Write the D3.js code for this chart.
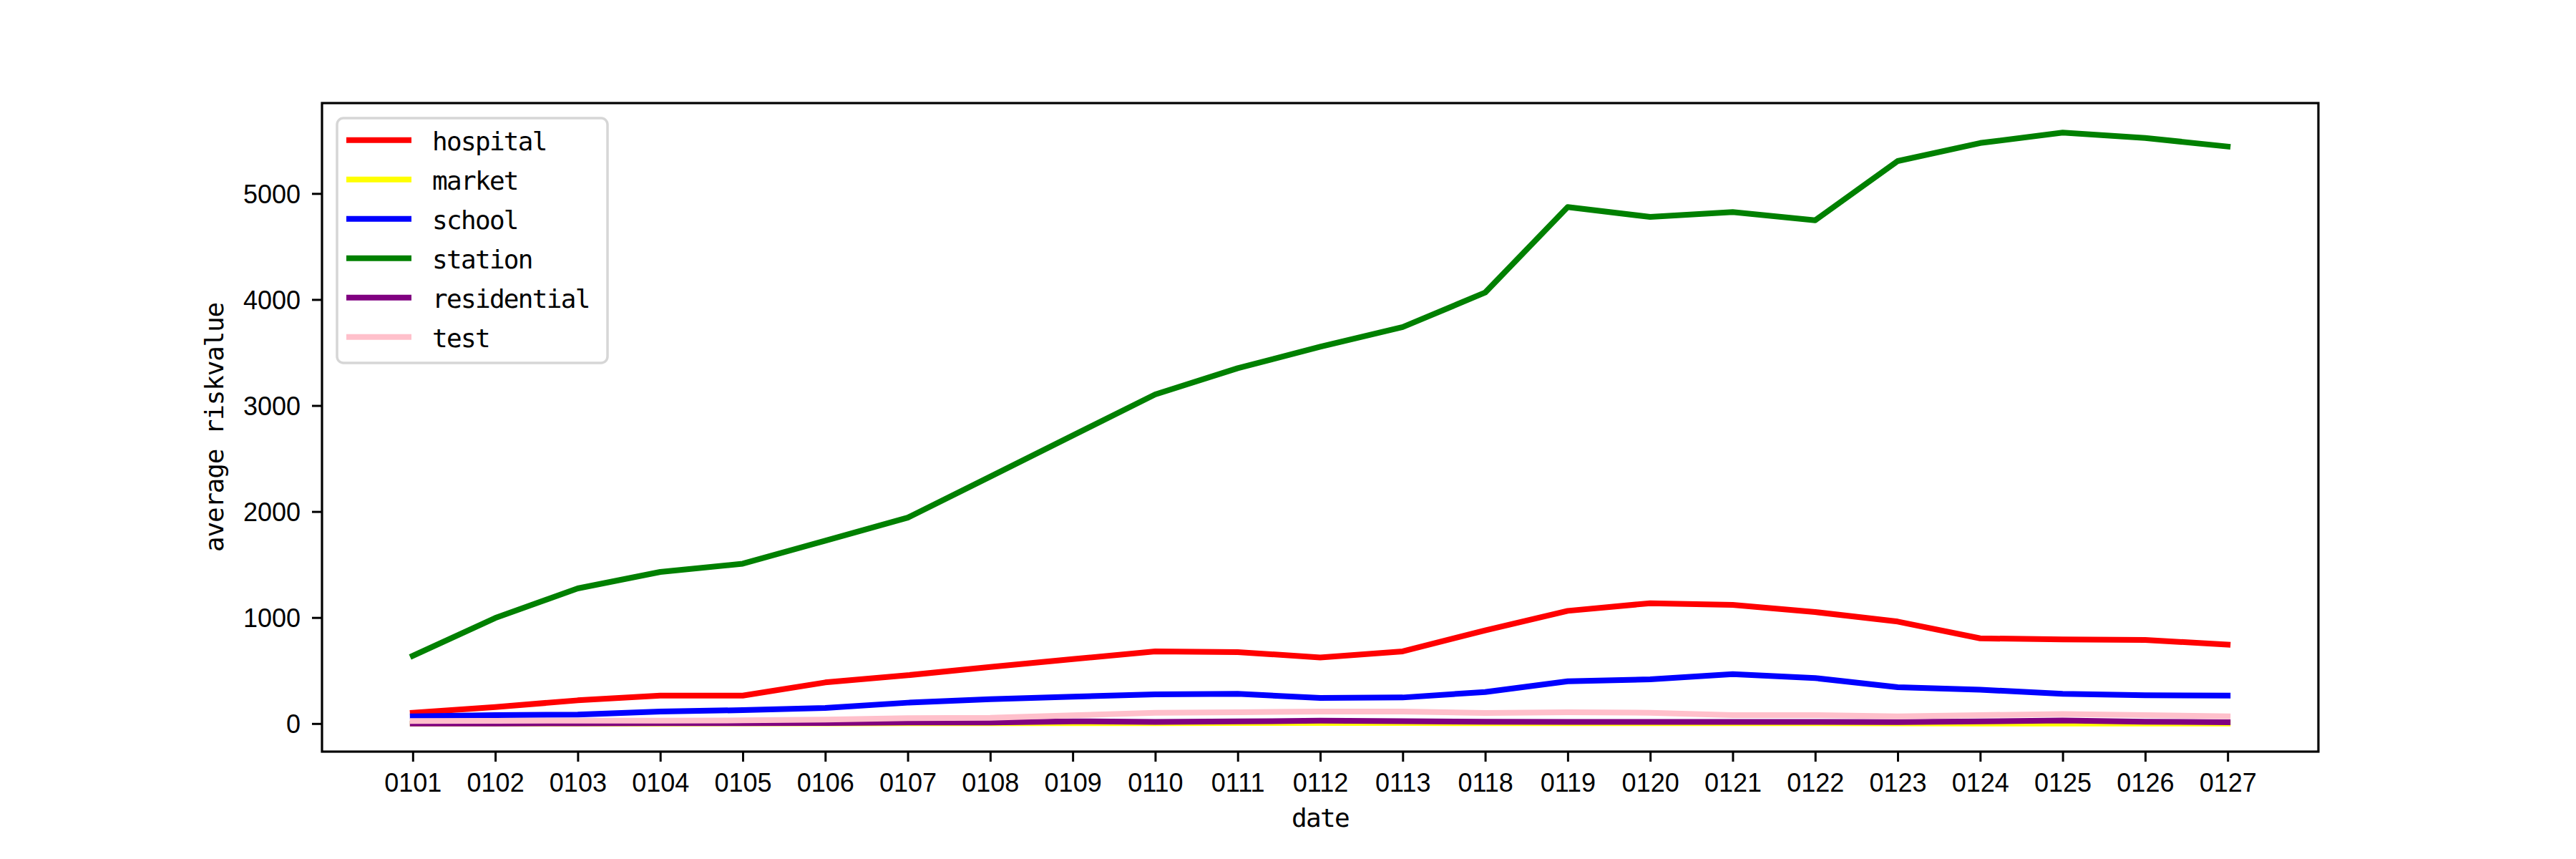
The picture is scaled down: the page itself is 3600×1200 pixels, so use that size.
<!DOCTYPE html>
<html>
<head>
<meta charset="utf-8">
<script src="https://cdn.jsdelivr.net/npm/d3@7"></script>
<style>
  html, body { margin: 0; padding: 0; background: #ffffff; }
  svg { display: block; }
</style>
</head>
<body>
<script>
// ---- data ----
const dates = ["0101","0102","0103","0104","0105","0106","0107","0108","0109","0110","0111","0112","0113","0118","0119","0120","0121","0122","0123","0124","0125","0126","0127"];
const hospital    = [102,156,219,264,264,388,456,534,608,681,674,624,681,879,1063,1135,1120,1052,962,804,793,789,744];
const market      = [0,0,1,1,2,2,3,3,4,4,5,6,5,4,4,3,3,3,2,1,0,1,1];
const school      = [68,80,84,113,127,147,197,230,253,276,280,242,246,298,399,417,467,429,343,320,280,267,264];
const station     = [639,996,1275,1430,1508,1725,1942,2329,2717,3105,3352,3554,3740,4066,4872,4779,4825,4748,5306,5476,5575,5524,5443];
const residential = [0,1,2,3,4,5,10,11,21,16,20,27,22,18,16,16,16,16,13,20,29,18,13];
const test        = [24,26,28,28,30,37,51,55,78,102,107,113,113,100,107,102,80,80,68,80,89,80,68];
const seriesNames = ["hospital","market","school","station","residential","test"];
const seriesColors = ["#ff0000","#ffff00","#0000ff","#008000","#800080","#ffc0cb"];
const seriesValues = [hospital, market, school, station, residential, test];
const yTicks = [0,1000,2000,3000,4000,5000];

(function () {
// ---- layout ----
const W = 3600, H = 1200;
const pL = 450, pR = 3240, pT = 144, pB = 1050;

const svg = d3.select("body").append("svg").attr("width", W).attr("height", H);
svg.append("rect").attr("width", W).attr("height", H).attr("fill", "#ffffff");

const x = d3.scalePoint().domain(dates).range([pL, pR]).padding(1.1);
const y = d3.scaleLinear().domain([-264.7, 5853]).range([pB, pT]);

// lines
const line = d3.line().x((d, i) => x(dates[i])).y(d => y(d));
seriesValues.forEach((vals, k) => {
  svg.append("path")
    .attr("d", line(vals))
    .attr("fill", "none")
    .attr("stroke", seriesColors[k])
    .attr("stroke-width", 8)
    .attr("stroke-linecap", "square")
    .attr("stroke-linejoin", "round");
});

// axes
const tickFont = "'Liberation Sans', Arial, sans-serif";
const xAxis = svg.append("g").attr("transform", `translate(0,${pB})`)
  .call(d3.axisBottom(x).tickSize(14).tickPadding(14));
xAxis.select(".domain").remove();
xAxis.selectAll(".tick line").attr("stroke", "#000").attr("stroke-width", 3);
xAxis.selectAll(".tick text").attr("font-family", tickFont).attr("font-size", 36).attr("fill", "#000")
  .attr("dy", null).attr("y", 56);

const yAxis = svg.append("g").attr("transform", `translate(${pL},0)`)
  .call(d3.axisLeft(y).tickValues(yTicks).tickFormat(d3.format("d")).tickSize(14).tickPadding(16));
yAxis.select(".domain").remove();
yAxis.selectAll(".tick line").attr("stroke", "#000").attr("stroke-width", 3);
yAxis.selectAll(".tick text").attr("font-family", tickFont).attr("font-size", 36).attr("fill", "#000")
  .attr("dy", "0.36em");

// spines
svg.append("rect").attr("x", pL).attr("y", pT).attr("width", pR - pL).attr("height", pB - pT)
  .attr("fill", "none").attr("stroke", "#000").attr("stroke-width", 3.2);

// axis labels
const labFont = "'DejaVu Sans Mono', 'Liberation Mono', monospace";
svg.append("text").attr("x", (pL + pR) / 2).attr("y", 1155)
  .attr("text-anchor", "middle").attr("font-family", labFont).attr("font-size", 36)
  .attr("letter-spacing", -1.7).text("date");
svg.append("text").attr("transform", `translate(312,${(pT + pB) / 2}) rotate(-90)`)
  .attr("text-anchor", "middle").attr("font-family", labFont).attr("font-size", 36)
  .attr("letter-spacing", -1.2).text("average riskvalue");

// legend
const lg = svg.append("g");
lg.append("rect").attr("x", 471).attr("y", 165).attr("width", 378).attr("height", 342)
  .attr("rx", 9).attr("ry", 9)
  .attr("fill", "#ffffff").attr("fill-opacity", 0.8)
  .attr("stroke", "#d6d6d6").attr("stroke-width", 3.5);
seriesNames.forEach((name, k) => {
  const cy = 195.7 + k * 55;
  lg.append("line").attr("x1", 484).attr("x2", 575).attr("y1", cy).attr("y2", cy)
    .attr("stroke", seriesColors[k]).attr("stroke-width", 8);
  lg.append("text").attr("x", 604).attr("y", cy + 14)
    .attr("font-family", labFont).attr("font-size", 36).attr("letter-spacing", -1.7)
    .attr("fill", "#000").text(name);
});
})();
</script>
</body>
</html>
